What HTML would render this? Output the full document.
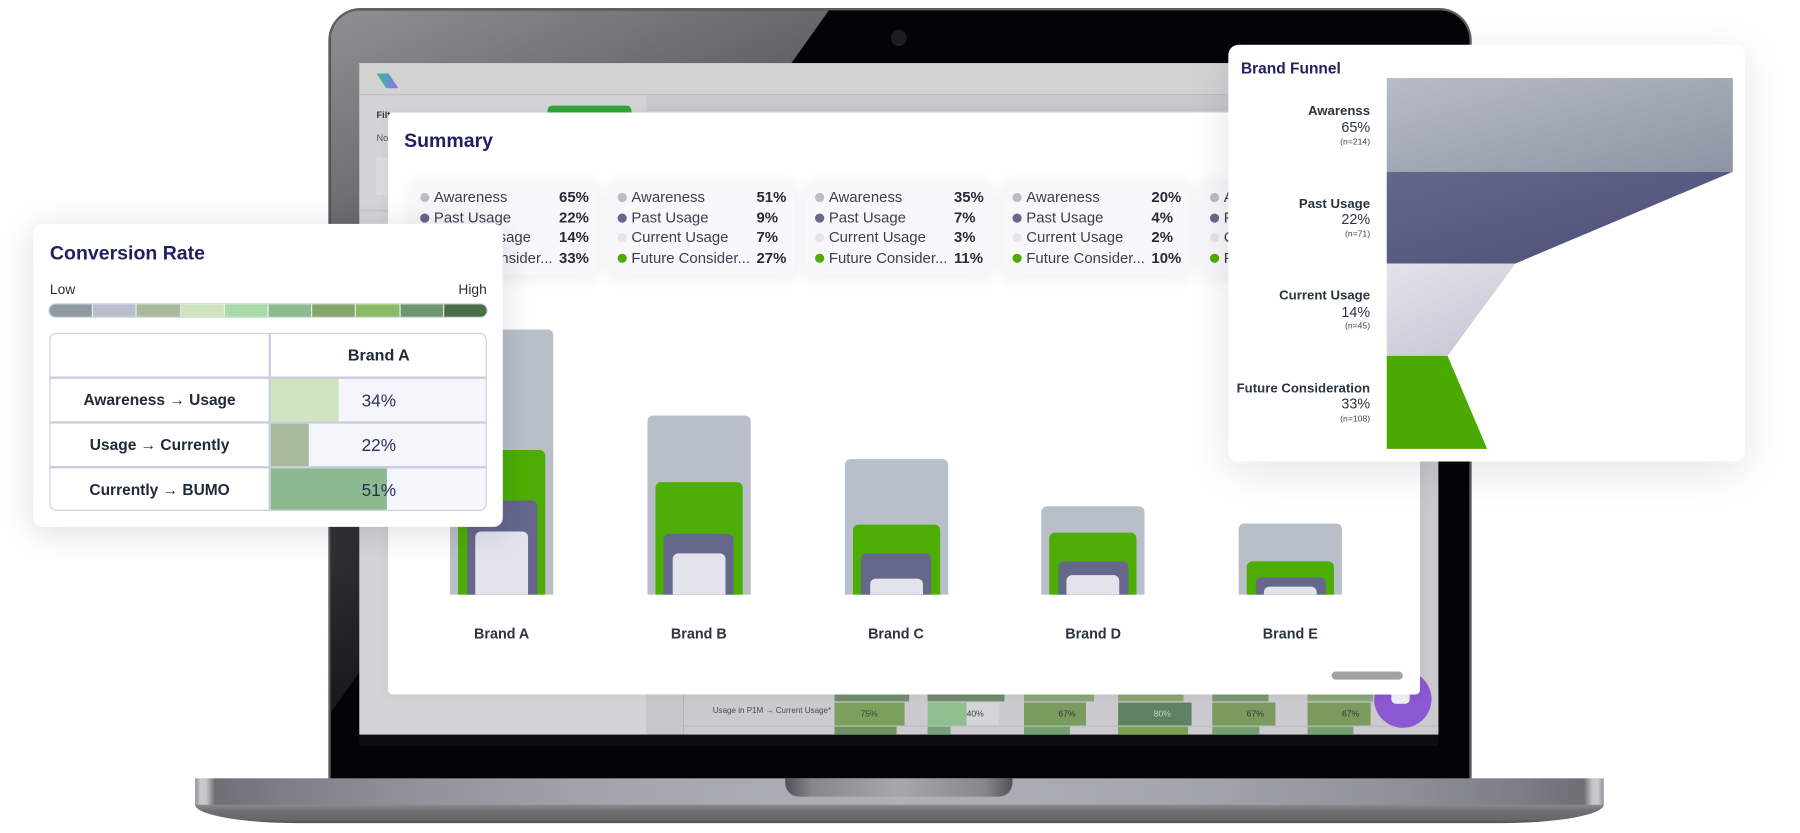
<!DOCTYPE html>
<html><head><meta charset="utf-8"><style>
html,body{margin:0;padding:0;background:#fff;}
body{width:1800px;height:833px;overflow:hidden;position:relative;}
#w{position:absolute;left:0;top:0;width:1568px;height:726px;transform:scale(1.147959);transform-origin:0 0;font-family:"Liberation Sans",Arial,sans-serif;}
.a{position:absolute;}
.lc{position:absolute;top:157px;width:163px;height:83px;background:#f8f8fa;border-radius:8px;box-shadow:0 3px 14px rgba(30,30,60,.07);}
.lr{position:absolute;left:0;width:163px;height:16px;font-size:13px;color:#3b4050;line-height:16px;}
.lr i{position:absolute;left:8px;top:4px;width:8px;height:8px;border-radius:50%;}
.lr span{position:absolute;left:20px;white-space:nowrap;}
.lr b{position:absolute;left:129px;color:#262b38;}
.r1{top:7px}.r2{top:24.5px}.r3{top:42px}.r4{top:60px}
.d1{background:#b9bdc9}.d2{background:#66688e}.d3{background:#e4e4ee}.d4{background:#4cae04}
.bar{position:absolute;border-radius:5px 5px 0 0;}
.g{background:#b9bfc9}.gr{background:#4cae04}.p{background:#65678b}.l{background:#e3e3ec}
.bl{position:absolute;top:544px;width:90px;text-align:center;font-size:12.5px;font-weight:bold;color:#2b3440;line-height:16px;}
.seg{flex:1;border-right:1px solid #eef0ee;}
.trl{position:absolute;left:0;width:190px;text-align:center;font-size:13.5px;font-weight:bold;color:#1f2937;}
.trv{position:absolute;left:191px;width:190px;background:#f5f6fb;}
.trv div{position:absolute;left:0;top:0;bottom:0;}
.trv span{position:absolute;left:0;width:190px;text-align:center;font-size:15px;color:#2b2f5e;}
.fl{position:absolute;left:0;width:124px;text-align:right;color:#2b3440;white-space:nowrap;}
.fn{font-size:11.5px;font-weight:bold;}
.fp{font-size:12.5px;}
.fs{font-size:7.5px;color:#444;}
.cell{position:absolute;height:20px;top:611.5px;font-size:7.5px;line-height:20px;color:#3b3f3a;}
</style></head><body><div id="w">

<!-- LAPTOP LID -->
<div class="a" style="left:286px;top:7px;width:996px;height:672px;border-radius:28px 28px 0 0;background:#5e6063;"></div>
<div class="a" style="left:288px;top:9px;width:992px;height:670px;border-radius:26px 26px 0 0;background:#040407;overflow:hidden;">
  <div class="a" style="left:0;top:0;width:440px;height:620px;clip-path:polygon(0 0,434px 0,0 612px);background:linear-gradient(155deg,#8e9091 0%,#66686a 25%,#303234 55%,#0a0a0d 85%);"></div>
</div>
<div class="a" style="left:776px;top:26px;width:14px;height:14px;border-radius:50%;background:#1b1d21;"></div>

<!-- SCREEN -->
<div class="a" style="left:313px;top:55px;width:940px;height:585px;background:#cacace;overflow:hidden;">
  <div class="a" style="left:0;top:0;width:940px;height:27px;background:#d2d2d3;border-bottom:1px solid #bdbdc0;"></div>
  <div class="a" style="left:15px;top:9px;width:19px;height:13px;clip-path:polygon(0 0,55% 0,100% 100%,45% 100%);background:linear-gradient(90deg,#3bb878,#5a9cc8 50%,#9a62e0);"></div>
  <div class="a" style="left:0;top:28px;width:250px;height:557px;background:#d4d4d6;"></div>
  <div class="a" style="left:250px;top:28px;width:690px;height:14px;background:#c8c9cc;border-bottom:1px solid #d8d8dc;"></div>
  <div class="a" style="left:164px;top:37px;width:73px;height:10px;background:#2ea83a;border-radius:4px 4px 0 0;"></div>
  <div class="a" style="left:15px;top:41px;font-size:8px;font-weight:bold;color:#333;white-space:nowrap;">Filters</div>
  <div class="a" style="left:15px;top:61px;font-size:8px;color:#555;white-space:nowrap;">None</div>
  <div class="a" style="left:15px;top:82px;width:40px;height:33px;background:#dcdcde;"></div>
  <div class="a" style="left:0;top:128px;width:250px;height:1px;background:#c4c4c6;"></div>
  <!-- bottom table area -->
  <div class="a" style="left:250px;top:545px;width:32px;height:40px;background:#c7c7ca;"></div>
  <div class="a" style="left:282px;top:545px;width:1px;height:40px;background:#b5b5b8;"></div>
  <div class="a" style="left:283px;top:545px;width:657px;height:40px;background:#cbcbcf;"></div>
  <div class="a" style="left:283px;top:576.5px;width:657px;height:1px;background:#bdbdc0;"></div>
</div>
<div class="a" style="left:313px;top:640px;width:940px;height:10px;background:#0c0c11;"></div>

<!-- bottom table cells (page coords) -->
<div class="a" style="left:726.6px;top:605px;width:65px;height:6px;background:#728e6e;"></div>
<div class="a" style="left:808px;top:605px;width:67px;height:6px;background:#718b6c;"></div>
<div class="a" style="left:892px;top:605px;width:61px;height:6px;background:#8aa876;"></div>
<div class="a" style="left:974px;top:605px;width:57px;height:6px;background:#8ba570;"></div>
<div class="a" style="left:1056px;top:605px;width:49px;height:6px;background:#7c976e;"></div>
<div class="a" style="left:1139px;top:605px;width:57px;height:6px;background:#8aa776;"></div>
<div class="a" style="left:600px;top:616px;width:124px;text-align:right;font-size:7px;color:#4a4a4a;white-space:nowrap;">Usage in P1M → Current Usage*</div>
<div class="cell" style="left:726.6px;width:61px;background:#7ba05c;text-align:center;">75%</div>
<div class="cell" style="left:808px;width:62px;background:#d5d5d8;"></div>
<div class="cell" style="left:808px;width:33.5px;background:#8fbf8f;"></div>
<div class="cell" style="left:842px;width:25px;color:#444;">40%</div>
<div class="cell" style="left:892px;width:54px;background:#7b9c5f;"></div>
<div class="cell" style="left:922px;color:#333;">67%</div>
<div class="cell" style="left:974px;width:64px;background:#5f8262;"></div>
<div class="cell" style="left:1005px;color:#c9d3c6;">80%</div>
<div class="cell" style="left:1056px;width:54.6px;background:#7a9b5d;"></div>
<div class="cell" style="left:1086px;color:#333;">67%</div>
<div class="cell" style="left:1139px;width:54.5px;background:#7a9b5d;"></div>
<div class="cell" style="left:1169px;color:#333;">67%</div>
<div class="a" style="left:726.6px;top:632.5px;width:54px;height:7.5px;background:#6f9060;"></div>
<div class="a" style="left:808px;top:632.5px;width:20px;height:7.5px;background:#7aa07a;"></div>
<div class="a" style="left:892px;top:632.5px;width:40px;height:7.5px;background:#74a070;"></div>
<div class="a" style="left:974px;top:632.5px;width:61px;height:7.5px;background:#7ba24f;"></div>
<div class="a" style="left:1056px;top:632.5px;width:41px;height:7.5px;background:#74a070;"></div>
<div class="a" style="left:1139px;top:632.5px;width:40px;height:7.5px;background:#74a070;"></div>

<!-- chat button -->
<div class="a" style="left:1197px;top:584px;width:50px;height:50px;border-radius:50%;background:#8a58d2;"></div>
<div class="a" style="left:1212px;top:601px;width:16px;height:12px;border-radius:4px;background:#f2f0f6;"></div>

<!-- SUMMARY CARD -->
<div class="a" style="left:338px;top:98px;width:899px;height:507px;background:#fff;border-radius:4px;box-shadow:0 0 10px rgba(0,0,0,.06);"></div>
<div class="a" style="left:352px;top:113px;font-size:17px;font-weight:bold;color:#1f2160;line-height:20px;">Summary</div>
<div class="a" style="left:1160px;top:585px;width:62px;height:7px;border-radius:4px;background:#a2a2a5;"></div>

<div class="lc" style="left:358px;">
 <div class="lr r1"><i class="d1"></i><span>Awareness</span><b>65%</b></div>
 <div class="lr r2"><i class="d2"></i><span>Past Usage</span><b>22%</b></div>
 <div class="lr r3"><i class="d3"></i><span>Current Usage</span><b>14%</b></div>
 <div class="lr r4"><i class="d4"></i><span>Future Consider...</span><b>33%</b></div>
</div>
<div class="lc" style="left:530px;">
 <div class="lr r1"><i class="d1"></i><span>Awareness</span><b>51%</b></div>
 <div class="lr r2"><i class="d2"></i><span>Past Usage</span><b>9%</b></div>
 <div class="lr r3"><i class="d3"></i><span>Current Usage</span><b>7%</b></div>
 <div class="lr r4"><i class="d4"></i><span>Future Consider...</span><b>27%</b></div>
</div>
<div class="lc" style="left:702px;">
 <div class="lr r1"><i class="d1"></i><span>Awareness</span><b>35%</b></div>
 <div class="lr r2"><i class="d2"></i><span>Past Usage</span><b>7%</b></div>
 <div class="lr r3"><i class="d3"></i><span>Current Usage</span><b>3%</b></div>
 <div class="lr r4"><i class="d4"></i><span>Future Consider...</span><b>11%</b></div>
</div>
<div class="lc" style="left:874px;">
 <div class="lr r1"><i class="d1"></i><span>Awareness</span><b>20%</b></div>
 <div class="lr r2"><i class="d2"></i><span>Past Usage</span><b>4%</b></div>
 <div class="lr r3"><i class="d3"></i><span>Current Usage</span><b>2%</b></div>
 <div class="lr r4"><i class="d4"></i><span>Future Consider...</span><b>10%</b></div>
</div>
<div class="lc" style="left:1046px;">
 <div class="lr r1"><i class="d1"></i><span>Awareness</span><b>15%</b></div>
 <div class="lr r2"><i class="d2"></i><span>Past Usage</span><b>3%</b></div>
 <div class="lr r3"><i class="d3"></i><span>Current Usage</span><b>1%</b></div>
 <div class="lr r4"><i class="d4"></i><span>Future Consider...</span><b>8%</b></div>
</div>

<!-- BARS -->
<div class="bar g" style="left:392px;top:287px;width:90px;height:231px;"></div>
<div class="bar gr" style="left:399px;top:392px;width:76px;height:126px;"></div>
<div class="bar p" style="left:406.5px;top:436px;width:61px;height:82px;"></div>
<div class="bar l" style="left:414px;top:463px;width:46px;height:55px;"></div>
<div class="bl" style="left:392px;">Brand A</div>

<div class="bar g" style="left:563.75px;top:362px;width:90px;height:156px;"></div>
<div class="bar gr" style="left:570.75px;top:420px;width:76px;height:98px;"></div>
<div class="bar p" style="left:578.25px;top:465px;width:61px;height:53px;"></div>
<div class="bar l" style="left:585.75px;top:482px;width:46px;height:36px;"></div>
<div class="bl" style="left:563.75px;">Brand B</div>

<div class="bar g" style="left:735.5px;top:400px;width:90px;height:118px;"></div>
<div class="bar gr" style="left:742.5px;top:456.5px;width:76px;height:61.5px;"></div>
<div class="bar p" style="left:750px;top:481.5px;width:61px;height:36.5px;"></div>
<div class="bar l" style="left:757.5px;top:504px;width:46px;height:14px;"></div>
<div class="bl" style="left:735.5px;">Brand C</div>

<div class="bar g" style="left:907.25px;top:441px;width:90px;height:77px;"></div>
<div class="bar gr" style="left:914.25px;top:463.5px;width:76px;height:54.5px;"></div>
<div class="bar p" style="left:921.75px;top:488.7px;width:61px;height:29.3px;"></div>
<div class="bar l" style="left:929.25px;top:501px;width:46px;height:17px;"></div>
<div class="bl" style="left:907.25px;">Brand D</div>

<div class="bar g" style="left:1079px;top:456px;width:90px;height:62px;"></div>
<div class="bar gr" style="left:1086px;top:488.7px;width:76px;height:29.3px;"></div>
<div class="bar p" style="left:1093.5px;top:503.3px;width:61px;height:14.7px;"></div>
<div class="bar l" style="left:1101px;top:510.5px;width:46px;height:7.5px;"></div>
<div class="bl" style="left:1079px;">Brand E</div>

<!-- LAPTOP BASE -->
<div class="a" style="left:170px;top:678px;width:1227px;height:24px;background:linear-gradient(90deg,#8d9096 0%,#c9cbd0 0.4%,#c3c5ca 0.8%,#6d6f75 1.4%,#7b7e86 6%,#8f929a 15%,#a3a6ae 30%,#aeb1b8 50%,#a3a6ae 70%,#8f929a 85%,#7b7e86 94%,#6d6f75 98.6%,#c3c5ca 99.2%,#c9cbd0 99.6%,#8d9096 100%);"></div>
<div class="a" style="left:170px;top:701px;width:1227px;height:16px;border-radius:0 0 90px 90px / 0 0 16px 16px;background:linear-gradient(180deg,#8a8c90 0%,#707276 30%,#65676b 80%,#4f5154 100%);"></div>
<div class="a" style="left:684px;top:678px;width:198px;height:16px;border-radius:0 0 12px 12px;background:linear-gradient(90deg,#505258,#85878d 12%,#a6a8ae 50%,#85878d 88%,#505258);"></div>

<!-- CONVERSION RATE CARD -->
<div class="a" style="left:29px;top:194.5px;width:409px;height:264px;background:#fff;border-radius:8px;box-shadow:0 4px 28px rgba(20,20,50,.14);">
 <div class="a" style="left:14.5px;top:15px;font-size:17px;font-weight:bold;color:#1f2160;line-height:22px;white-space:nowrap;">Conversion Rate</div>
 <div class="a" style="left:14.5px;top:50px;font-size:12px;color:#2a2f3a;line-height:15px;">Low</div>
 <div class="a" style="right:14px;top:50px;font-size:12px;color:#2a2f3a;line-height:15px;">High</div>
 <div class="a" style="left:14px;top:70.5px;width:381px;height:11px;border-radius:6px;overflow:hidden;display:flex;box-shadow:0 0 0 1px #dcdde2;">
  <div class="seg" style="background:#8e9aa0"></div>
  <div class="seg" style="background:#babdd0"></div>
  <div class="seg" style="background:#a9b99b"></div>
  <div class="seg" style="background:#d0e3c0"></div>
  <div class="seg" style="background:#a8dba8"></div>
  <div class="seg" style="background:#8bbb8e"></div>
  <div class="seg" style="background:#86a56a"></div>
  <div class="seg" style="background:#8abb64"></div>
  <div class="seg" style="background:#6e9670"></div>
  <div class="seg" style="background:#4a6e48;border-right:none;"></div>
 </div>
 <div class="a" style="left:14px;top:95.5px;width:381px;height:155px;box-sizing:border-box;border:1.5px solid #cacbe0;border-radius:6px;overflow:hidden;">
  <div class="a" style="left:190px;top:0;width:1.5px;height:155px;background:#cacbe0;z-index:2;"></div>
  <div class="a" style="left:191px;top:0;width:190px;height:37px;line-height:37px;text-align:center;font-size:14px;font-weight:bold;color:#1f2937;">Brand A</div>
  <div class="a" style="left:0;top:37px;width:381px;height:1.5px;background:#cacbe0;z-index:2;"></div>
  <div class="trl" style="top:38.5px;height:37.5px;line-height:37.5px;">Awareness → Usage</div>
  <div class="trv" style="top:38.5px;height:37.5px;"><div style="width:60px;background:#d0e4c0;"></div><span style="line-height:40px;">34%</span></div>
  <div class="a" style="left:0;top:76px;width:381px;height:1.5px;background:#cacbe0;z-index:2;"></div>
  <div class="trl" style="top:77.5px;height:37.5px;line-height:37.5px;">Usage → Currently</div>
  <div class="trv" style="top:77.5px;height:37.5px;"><div style="width:34px;background:#a9ba9c;"></div><span style="line-height:40px;">22%</span></div>
  <div class="a" style="left:0;top:115px;width:381px;height:1.5px;background:#cacbe0;z-index:2;"></div>
  <div class="trl" style="top:116.5px;height:37.5px;line-height:37.5px;">Currently → BUMO</div>
  <div class="trv" style="top:116.5px;height:37.5px;"><div style="width:102px;background:#8aba8d;"></div><span style="line-height:40px;">51%</span></div>
 </div>
</div>

<!-- BRAND FUNNEL CARD -->
<div class="a" style="left:1069.5px;top:39px;width:450.5px;height:363px;background:#fff;border-radius:9px;box-shadow:0 8px 36px rgba(20,20,50,.11);">
 <div class="a" style="left:11.5px;top:12px;font-size:13.5px;font-weight:bold;color:#1f2160;line-height:18px;white-space:nowrap;">Brand Funnel</div>
 <svg class="a" style="left:0;top:0" width="450" height="363" viewBox="0 0 450 363">
  <defs>
   <linearGradient id="g1" x1="0" y1="0" x2="1" y2="1"><stop offset="0" stop-color="#b7bcc7"/><stop offset="1" stop-color="#8e94a3"/></linearGradient>
   <linearGradient id="g2" x1="0" y1="0" x2="1" y2="1"><stop offset="0" stop-color="#64668d"/><stop offset="1" stop-color="#4c4e75"/></linearGradient>
   <linearGradient id="g3" x1="0" y1="0" x2="0.6" y2="1"><stop offset="0" stop-color="#e3e3ec"/><stop offset="1" stop-color="#c9c9d6"/></linearGradient>
  </defs>
  <rect x="138" y="29" width="301.5" height="81.6" fill="url(#g1)"/>
  <polygon points="138,110.6 439.5,110.6 250.2,190.5 138,190.5" fill="url(#g2)"/>
  <polygon points="138,190.5 250.2,190.5 191,271 138,271" fill="url(#g3)"/>
  <polygon points="138,271 191,271 225.5,352 138,352" fill="#4aaa02"/>
 </svg>
 <div class="fl fn" style="top:51px;line-height:15px;">Awarenss</div>
 <div class="fl fp" style="top:65px;line-height:15px;">65%</div>
 <div class="fl fs" style="top:79.5px;line-height:10px;">(n=214)</div>
 <div class="fl fn" style="top:131.5px;line-height:15px;">Past Usage</div>
 <div class="fl fp" style="top:145px;line-height:15px;">22%</div>
 <div class="fl fs" style="top:159.5px;line-height:10px;">(n=71)</div>
 <div class="fl fn" style="top:212px;line-height:15px;">Current Usage</div>
 <div class="fl fp" style="top:225.5px;line-height:15px;">14%</div>
 <div class="fl fs" style="top:240px;line-height:10px;">(n=45)</div>
 <div class="fl fn" style="top:292.5px;line-height:15px;">Future Consideration</div>
 <div class="fl fp" style="top:306px;line-height:15px;">33%</div>
 <div class="fl fs" style="top:320.5px;line-height:10px;">(n=108)</div>
</div>

</div></body></html>
